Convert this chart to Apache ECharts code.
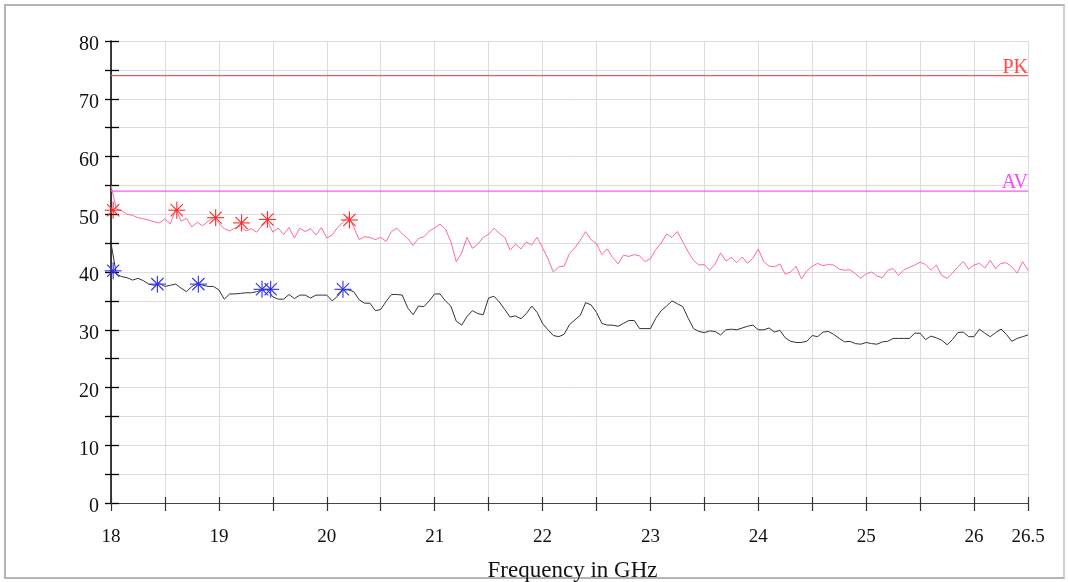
<!DOCTYPE html>
<html>
<head>
<meta charset="utf-8">
<script src="https://cdn.jsdelivr.net/npm/echarts@6/dist/echarts.min.js"></script>
<style>
  body { margin: 0; background: #fff; }
  #frame { position: absolute; left: 4px; top: 4px; width: 1057px; height: 571px; border: 2px solid #b4b4b4; border-right-color: #d0d0d0; }
  #chart { position: absolute; left: 0; top: 0; width: 1068px; height: 582px; }
</style>
</head>
<body>
<div id="frame"></div>
<div id="chart"></div>
<script>
// sweep frequencies (GHz)
const freq = [
  18.00, 18.05, 18.10, 18.15, 18.20, 18.25, 18.30, 18.35, 18.40, 18.45,
  18.50, 18.55, 18.60, 18.65, 18.70, 18.75, 18.80, 18.85, 18.90, 18.95,
  19.00, 19.05, 19.10, 19.15, 19.20, 19.25, 19.30, 19.35, 19.40, 19.45,
  19.50, 19.55, 19.60, 19.65, 19.70, 19.75, 19.80, 19.85, 19.90, 19.95,
  20.00, 20.05, 20.10, 20.15, 20.20, 20.25, 20.30, 20.35, 20.40, 20.45,
  20.50, 20.55, 20.60, 20.65, 20.70, 20.75, 20.80, 20.85, 20.90, 20.95,
  21.00, 21.05, 21.10, 21.15, 21.20, 21.25, 21.30, 21.35, 21.40, 21.45,
  21.50, 21.55, 21.60, 21.65, 21.70, 21.75, 21.80, 21.85, 21.90, 21.95,
  22.00, 22.05, 22.10, 22.15, 22.20, 22.25, 22.30, 22.35, 22.40, 22.45,
  22.50, 22.55, 22.60, 22.65, 22.70, 22.75, 22.80, 22.85, 22.90, 22.95,
  23.00, 23.05, 23.10, 23.15, 23.20, 23.25, 23.30, 23.35, 23.40, 23.45,
  23.50, 23.55, 23.60, 23.65, 23.70, 23.75, 23.80, 23.85, 23.90, 23.95,
  24.00, 24.05, 24.10, 24.15, 24.20, 24.25, 24.30, 24.35, 24.40, 24.45,
  24.50, 24.55, 24.60, 24.65, 24.70, 24.75, 24.80, 24.85, 24.90, 24.95,
  25.00, 25.05, 25.10, 25.15, 25.20, 25.25, 25.30, 25.35, 25.40, 25.45,
  25.50, 25.55, 25.60, 25.65, 25.70, 25.75, 25.80, 25.85, 25.90, 25.95,
  26.00, 26.05, 26.10, 26.15, 26.20, 26.25, 26.30, 26.35, 26.40, 26.45,
  26.50
];

// peak detector trace (pink)
const peakTrace = [
  55.0, 50.9, 50.6, 50.0, 49.8, 49.4, 49.2, 49.0, 48.7, 48.5,
  49.2, 48.3, 50.9, 48.8, 49.3, 47.8, 48.6, 48.0, 48.8, 49.4,
  48.4, 47.5, 47.1, 47.6, 48.0, 47.1, 47.5, 46.9, 48.0, 48.8,
  46.9, 47.6, 46.5, 47.7, 45.9, 47.6, 47.0, 47.5, 46.4, 47.7,
  45.9, 46.4, 47.7, 48.6, 49.6, 47.8, 45.6, 46.1, 46.0, 45.6,
  46.0, 45.3, 47.0, 47.6, 46.6, 45.8, 44.6, 45.8, 46.1, 47.1,
  47.6, 48.3, 47.4, 45.3, 41.8, 43.3, 46.0, 44.1, 44.8, 46.0,
  46.5, 47.6, 46.7, 46.0, 43.8, 44.8, 44.0, 45.2, 44.7, 46.0,
  44.2, 42.3, 40.0, 40.9, 41.0, 43.2, 44.2, 45.5, 47.0, 45.6,
  44.9, 43.0, 44.0, 42.5, 41.4, 42.9, 42.7, 43.0, 42.8, 41.8,
  42.3, 43.9, 45.0, 46.6, 46.0, 47.0, 45.2, 43.5, 42.0, 41.2,
  41.3, 40.3, 41.4, 43.3, 41.9, 42.5, 41.6, 42.6, 41.5, 42.4,
  44.0, 41.8, 41.0, 40.9, 41.4, 39.6, 40.0, 41.0, 38.8, 40.2,
  41.0, 41.5, 41.1, 41.3, 41.2, 40.5, 40.3, 40.4, 39.7, 38.9,
  39.7, 40.0, 39.3, 39.0, 40.3, 40.6, 39.4, 40.4, 40.8, 41.2,
  41.7, 41.3, 40.3, 41.2, 39.4, 38.9, 39.8, 40.9, 41.8, 40.5,
  41.2, 41.5, 40.7, 42.0, 40.6, 41.5, 41.6, 40.9, 39.8, 41.8,
  40.3
];

// average detector trace (black)
const avgTrace = [
  45.0, 39.6, 39.2, 39.0, 38.6, 38.9, 38.5, 37.9, 37.7, 38.0,
  37.5, 37.7, 37.9, 37.2, 36.6, 37.5, 38.0, 37.7, 37.5, 37.5,
  36.9, 35.3, 36.2, 36.2, 36.3, 36.4, 36.4, 36.6, 36.9, 36.9,
  35.7, 35.3, 35.3, 36.1, 35.4, 36.0, 36.0, 35.5, 36.0, 36.0,
  36.0, 35.0, 35.8, 36.9, 36.9, 36.6, 35.2, 34.6, 34.6, 33.3,
  33.5, 34.9, 36.1, 36.1, 36.0, 33.8, 32.6, 34.1, 34.0, 35.0,
  36.2, 36.2, 35.0, 34.1, 31.5, 30.8, 32.3, 33.3, 32.8, 32.6,
  35.5, 35.8, 34.8, 33.5, 32.2, 32.4, 31.9, 32.8, 34.1, 33.0,
  31.1, 30.0, 29.0, 28.8, 29.2, 30.9, 31.7, 32.5, 34.7, 34.3,
  33.0, 31.1, 30.8, 30.8, 30.6, 31.1, 31.6, 31.6, 30.2, 30.2,
  30.2, 32.0, 33.3, 34.1, 35.0, 34.5, 34.0, 32.0, 30.2, 29.7,
  29.5, 29.8, 29.7, 29.1, 30.0, 30.1, 30.0, 30.3, 30.6, 30.8,
  30.0, 30.0, 30.3, 29.6, 29.9, 28.6, 28.0, 27.8, 27.8, 28.0,
  29.0, 28.8, 29.6, 29.7, 29.2, 28.5, 27.9, 28.0, 27.6, 27.5,
  27.8, 27.6, 27.5, 27.9, 28.0, 28.5, 28.5, 28.5, 28.5, 29.4,
  29.4, 28.3, 28.9, 28.6, 28.2, 27.4, 28.3, 29.5, 29.6, 28.8,
  28.8, 30.1, 29.4, 28.8, 29.5, 30.1, 29.2, 28.0, 28.5, 28.8,
  29.1
];

// marked peaks
const pkMarkFreq = [18.02, 18.61, 18.97, 19.21, 19.45, 20.21];
const pkMarkLevel = [50.7, 50.7, 49.4, 48.5, 49.1, 49.0];
const avMarkFreq = [18.02, 18.43, 18.81, 19.40, 19.48, 20.15];
const avMarkLevel = [40.2, 37.9, 37.9, 37.0, 37.0, 37.0];

// limit lines
const pkLimit = 74;
const avLimit = 54;

const FONT = "Liberation Serif";

function pairs(xs, ys) {
  return xs.map((x, i) => [x, ys[i]]);
}

// limit line across the sweep, label on the last point
function limitSeries(name, level, lineColor, textColor) {
  const f0 = freq[0];
  const f1 = freq[freq.length - 1];
  return {
    name: name,
    type: "line",
    data: [[f0, level], [f1, level]],
    symbol: "none",
    silent: true,
    lineStyle: { color: lineColor, width: 1.4 },
    endLabel: {
      show: true,
      formatter: name,
      fontFamily: FONT,
      fontSize: 20,
      color: textColor,
      align: "right",
      verticalAlign: "bottom",
      distance: 0,
      offset: [0, 2],
    },
    z: 1,
  };
}

// asterisk marker drawn as 4 crossing strokes
function asterisk(color) {
  return function (params, api) {
    const p = api.coord([api.value(0), api.value(1)]);
    const r = 8.5;
    const d = r * 0.72;
    const st = { stroke: color, lineWidth: 1.1 };
    return {
      type: "group",
      children: [
        { type: "line", shape: { x1: p[0] - r, y1: p[1], x2: p[0] + r, y2: p[1] }, style: st },
        { type: "line", shape: { x1: p[0], y1: p[1] - r, x2: p[0], y2: p[1] + r }, style: st },
        { type: "line", shape: { x1: p[0] - d, y1: p[1] - d, x2: p[0] + d, y2: p[1] + d }, style: st },
        { type: "line", shape: { x1: p[0] - d, y1: p[1] + d, x2: p[0] + d, y2: p[1] - d }, style: st },
      ],
    };
  };
}

var chartDom = document.getElementById("chart");
var myChart = echarts.init(chartDom);
var option = {
  animation: false,
  grid: { left: 111, right: 40, top: 41, bottom: 79, outerBoundsMode: "none", containLabel: false },
  xAxis: [
    {
      type: "value",
      position: "bottom",
      min: 18,
      max: 26.5,
      interval: 0.5,
      name: "Frequency in GHz",
      nameLocation: "middle",
      nameGap: 56,
      nameTextStyle: { fontFamily: FONT, fontSize: 23, color: "#111", padding: [0, 0, 0, 6] },
      axisLine: { onZero: false, lineStyle: { color: "#444", width: 1.2 } },
      axisTick: { show: true, length: 8, lineStyle: { color: "#333", width: 1.2 } },
      axisLabel: {
        fontFamily: FONT,
        fontSize: 19,
        color: "#111",
        margin: 25,
        showMinLabel: true,
        showMaxLabel: true,
        formatter: (v) => (v % 1 === 0 || v === 26.5 ? String(v) : ""),
      },
      splitLine: { show: true, lineStyle: { color: "#dcdcdc", width: 1 } },
    },
    {
      type: "value",
      position: "bottom",
      min: 18,
      max: 26.5,
      interval: 0.5,
      axisLine: { show: false, onZero: false },
      axisTick: { show: true, inside: true, length: 6, lineStyle: { color: "#333", width: 1.2 } },
      axisLabel: { show: false },
      splitLine: { show: false },
    },
  ],
  yAxis: [
    {
      type: "value",
      position: "left",
      min: 0,
      max: 80,
      interval: 5,
      axisLine: { show: true, onZero: false, lineStyle: { color: "#000", width: 1.5 } },
      axisTick: { show: true, length: 6, lineStyle: { color: "#000", width: 1.3 } },
      axisLabel: {
        fontFamily: FONT,
        fontSize: 20,
        color: "#111",
        margin: 12,
        verticalAlign: "top",
        lineHeight: 8,
        formatter: (v) => (v % 10 === 0 ? String(v) : ""),
      },
      splitLine: { show: true, lineStyle: { color: "#dcdcdc", width: 1 } },
    },
    {
      type: "value",
      position: "left",
      min: 0,
      max: 80,
      interval: 5,
      axisLine: { show: false, onZero: false },
      axisTick: { show: true, inside: true, length: 8, lineStyle: { color: "#000", width: 1.3 } },
      axisLabel: { show: false },
      splitLine: { show: false },
    },
  ],
  series: [
    limitSeries("PK", pkLimit, "#f05a5a", "#ff4a4a"),
    limitSeries("AV", avLimit, "#ff55ff", "#ff44ff"),
    {
      name: "peak",
      type: "line",
      data: pairs(freq, peakTrace),
      symbol: "none",
      lineStyle: { color: "#ff6a98", width: 1 },
      z: 2,
    },
    {
      name: "average",
      type: "line",
      data: pairs(freq, avgTrace),
      symbol: "none",
      lineStyle: { color: "#333", width: 1 },
      z: 2,
    },
    {
      name: "PK marks",
      type: "custom",
      renderItem: asterisk("#ff2a2a"),
      data: pairs(pkMarkFreq, pkMarkLevel),
      z: 5,
    },
    {
      name: "AV marks",
      type: "custom",
      renderItem: asterisk("#2d2dff"),
      data: pairs(avMarkFreq, avMarkLevel),
      z: 5,
    },
  ],
};
myChart.setOption(option);
</script>
</body>
</html>
